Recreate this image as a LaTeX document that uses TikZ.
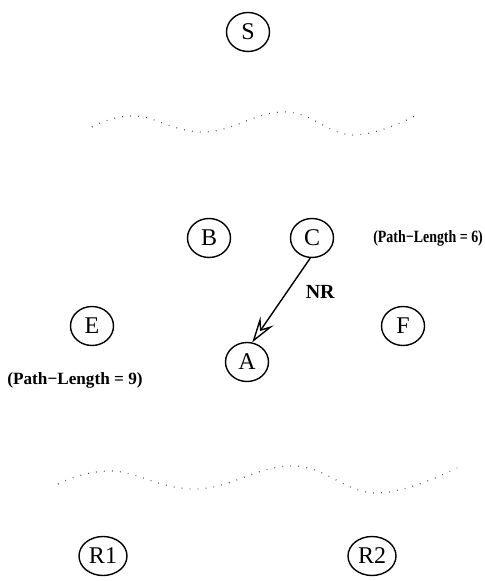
\documentclass[tikz,border=0pt]{standalone}
\usepackage{fontspec}
\setmainfont{Liberation Serif}
\usetikzlibrary{shapes,arrows.meta}
\tikzset{rt/.style={draw,ellipse,line width=0.7pt,minimum width=21.5pt,minimum
height=19.5pt,inner sep=0pt,font=\fontsize{12}{14}\selectfont},
pl/.style={font=\fontsize{8.6}{10}\selectfont\bfseries,inner sep=0pt},
wv/.style={line width=0.6pt,dash pattern=on 0.4pt off 3.6pt,black!70}}

\begin{document}
\begin{tikzpicture}[x=0.5pt,y=-0.5pt]
		\useasboundingbox (0,0) rectangle (485,581);
		% routers
		\node[rt] (S) at (248,32) {S};
		\node[rt] (B) at (209,238) {B};
		\node[rt] (C) at (312,238) {C};
		\node[rt] (E) at (92,326) {E};
		\node[rt] (F) at (403,326) {F};
		\node[rt] (A) at (247,362) {A};
		\node[rt,minimum width=24pt] (R1) at (103,556) {R1};
		\node[rt,minimum width=24pt] (R2) at (372,556) {R2};
		% labels
		\node[pl,anchor=west,xscale=0.81,transform shape] (lc) at (373,238) {(Path−Length = 6)};
		\node[pl] (le) at (75,380) {(Path−Length = 9)};
		% clouds
		\draw[wv] plot[smooth,tension=0.7] coordinates {(92,127) (135,116) (205,132) (285,112)
				(353,135) (417,115)};
		\draw[wv] plot[smooth,tension=0.7] coordinates {(58,484) (112,471) (197,489) (293,466)
				(376,493) (457,468)};
		% update
		\draw[line width=0.7pt,-{Stealth[open,length=13pt,width=8pt,inset=5pt]}] (C.265) -- (A.75)
		node[pos=0.4,right=9pt,pl,font=\fontsize{10}{12}\selectfont\bfseries] (nr) {NR};
	\end{tikzpicture}
\end{document}
